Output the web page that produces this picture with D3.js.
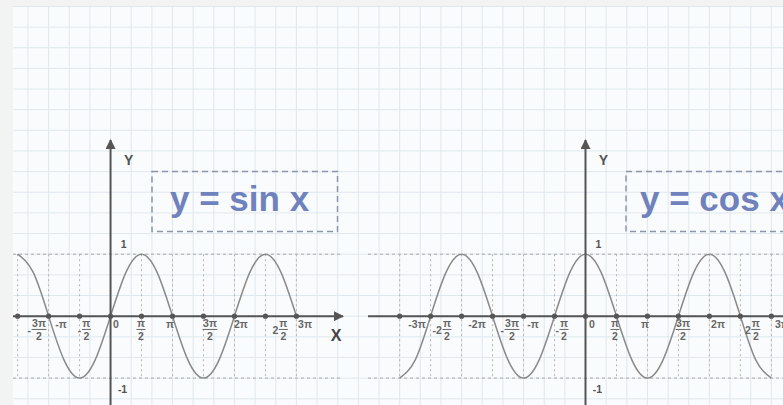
<!DOCTYPE html>
<html><head><meta charset="utf-8">
<script src="https://cdn.jsdelivr.net/npm/d3@7"></script>
<style>html,body{margin:0;padding:0;background:#f3f3f3;}svg{display:block;}</style>
</head><body>
<svg id="c" width="783" height="405"></svg>
<script>
// ---- data (x in multiples of π) ----
const sinX = [-1.5,-1.25,-1,-0.75,-0.5,-0.25,0,0.25,0.5,0.75,1,1.25,1.5,1.75,2,2.25,2.5,2.75,3];
const sinY = [1,0.71,0,-0.71,-1,-0.71,0,0.71,1,0.71,0,-0.71,-1,-0.71,0,0.71,1,0.71,0];
const cosX = [-3,-2.75,-2.5,-2.25,-2,-1.75,-1.5,-1.25,-1,-0.75,-0.5,-0.25,0,0.25,0.5,0.75,1,1.25,1.5,1.75,2,2.25,2.5,2.75,3];
const cosY = [-1,-0.71,0,0.71,1,0.71,0,-0.71,-1,-0.71,0,0.71,1,0.71,0,-0.71,-1,-0.71,0,0.71,1,0.71,0,-0.71,-1];
const sinTicks = [-1.5,-1,-0.5,0,0.5,1,1.5,2,2.5,3];
const cosTicks = [-3,-2.5,-2,-1.5,-1,-0.5,0,0.5,1,1.5,2,2.5,3];
const sinLabelPre = ["-", "", "-", "", "", "", "", "", "2", ""];
const sinLabelNum = ["3π","-π","π","0","π","π","3π","2π","π","3π"];
const sinLabelDen = ["2","","2","","2","","2","","2",""];
const sinLabelAt  = [-1.155,-0.80,-0.39,0.088,0.491,0.96,1.605,2.105,2.79,3.139];
const cosLabelPre = ["","-2","","-","","-","","","","","","2",""];
const cosLabelNum = ["-3π","π","-2π","3π","-π","π","0","π","π","3π","2π","π","3π"];
const cosLabelDen = ["","2","","2","","2","","2","","2","","2",""];
const cosLabelAt  = [-2.72,-2.236,-1.751,-1.186,-0.847,-0.347,0.105,0.476,0.960,1.574,2.139,2.75,3.17];
const yTickLabels = ["1","-1"];
const titles = ["y = sin x","y = cos x"];

// ---- layout ----
const svg = d3.select("#c");
const W = 783, H = 405;
const g = 20.65;             // grid cell
const gx0 = 7.3, gy0 = 6.4;  // grid offset
const unitPi = 3 * g;        // pixels per π
const amp = 3 * g;
const y0 = gy0 + 15 * g;
const y = d3.scaleLinear().domain([-1, 1]).range([y0 + amp, y0 - amp]);

// paper
svg.append("rect").attr("x", 13).attr("y", 6).attr("width", W - 13).attr("height", H - 6).attr("fill", "#f9fbfc");
const grid = svg.append("g").attr("stroke", "#e0e8ed").attr("stroke-width", 1);
for (let k = 0; gx0 + k * g < W; k++) {
  const xx = gx0 + k * g; if (xx < 13) continue;
  grid.append("line").attr("x1", xx).attr("x2", xx).attr("y1", 6).attr("y2", H);
}
for (let k = 0; gy0 + k * g < H; k++) {
  const yy = gy0 + k * g; if (yy < 6) continue;
  grid.append("line").attr("x1", 13).attr("x2", W).attr("y1", yy).attr("y2", yy);
}

const defs = svg.append("defs");
defs.append("marker").attr("id", "arr").attr("viewBox", "0 0 10 10").attr("refX", 9).attr("refY", 5)
  .attr("markerWidth", 5).attr("markerHeight", 5).attr("orient", "auto").attr("markerUnits", "strokeWidth")
  .append("path").attr("d", "M0,0 L10,5 L0,10 Z").attr("fill", "#555");

function panel(opt) {
  const x = d3.scaleLinear().domain([0, 1]).range([opt.origin, opt.origin + unitPi]);
  const p = svg.append("g");
  [1, -1].forEach(v => p.append("line").attr("x1", opt.xMin).attr("x2", opt.xMax)
    .attr("y1", y(v)).attr("y2", y(v)).attr("stroke", "#aaa").attr("stroke-width", 1).attr("stroke-dasharray", "3,3"));
  opt.ticks.filter(t => t !== 0).forEach(t => p.append("line").attr("x1", x(t)).attr("x2", x(t))
    .attr("y1", y(1)).attr("y2", y(-1)).attr("stroke", "#b5b5b5").attr("stroke-width", 1).attr("stroke-dasharray", "2,3"));
  const pts = opt.xs.map((v, i) => [v, opt.ys[i]]);
  p.append("path").attr("d", d3.line().x(d => x(d[0])).y(d => y(d[1])).curve(d3.curveNatural)(pts))
    .attr("fill", "none").attr("stroke", "#8a8a8a").attr("stroke-width", 1.5);
  p.append("line").attr("x1", opt.xMin).attr("x2", opt.xArrow).attr("y1", y0).attr("y2", y0)
    .attr("stroke", "#555").attr("stroke-width", 2).attr("marker-end", opt.xArrowMark ? "url(#arr)" : null);
  p.append("line").attr("x1", opt.origin).attr("x2", opt.origin).attr("y1", H).attr("y2", 140)
    .attr("stroke", "#555").attr("stroke-width", 2).attr("marker-end", "url(#arr)");
  opt.ticks.forEach(t => p.append("circle").attr("cx", x(t)).attr("cy", y0).attr("r", 2.6).attr("fill", "#555"));
  const lab = p.append("g").attr("font-family", "Liberation Sans, Arial, sans-serif").attr("font-weight", "bold")
    .attr("font-size", 10.5).attr("fill", "#666");
  opt.at.forEach((a, i) => {
    const gg = lab.append("g").attr("transform", `translate(${x(a)},0)`);
    if (opt.den[i]) {
      const n = gg.append("text").attr("text-anchor", "middle").attr("y", y0 + 11).text(opt.num[i]);
      const d = gg.append("text").attr("text-anchor", "middle").attr("y", y0 + 24).text(opt.den[i]);
      const w = Math.max(n.node().getComputedTextLength(), d.node().getComputedTextLength()) + 1;
      gg.append("line").attr("x1", -w / 2).attr("x2", w / 2).attr("y1", y0 + 13.3).attr("y2", y0 + 13.3)
        .attr("stroke", "#666").attr("stroke-width", 1);
      if (opt.pre[i]) gg.append("text").attr("text-anchor", "end").attr("x", -w / 2 - 0.5).attr("y", y0 + 17.5).text(opt.pre[i]);
    } else {
      gg.append("text").attr("text-anchor", "middle").attr("y", y0 + 11.5).text(opt.num[i]);
    }
  });
  const yl = p.append("g").attr("font-family", "Liberation Sans, Arial, sans-serif").attr("font-weight", "bold").attr("fill", "#555");
  yl.append("text").attr("x", opt.origin + 13).attr("y", y(1) - 6).attr("font-size", 10.5).attr("text-anchor", "middle").text(yTickLabels[0]);
  yl.append("text").attr("x", opt.origin + 12).attr("y", y(-1) + 15).attr("font-size", 10.5).attr("text-anchor", "middle").text(yTickLabels[1]);
  yl.append("text").attr("x", opt.origin + 18).attr("y", 165).attr("font-size", 14).attr("text-anchor", "middle").text("Y");
  if (opt.xLabel) yl.append("text").attr("x", opt.xArrow - 7).attr("y", y0 + 25).attr("font-size", 16).attr("fill", "#444").attr("text-anchor", "middle").text("X");
  p.append("rect").attr("x", opt.box[0]).attr("y", 171.5).attr("width", opt.box[1]).attr("height", 60)
    .attr("fill", "none").attr("stroke", "#8d95ad").attr("stroke-width", 1.5).attr("stroke-dasharray", "6,4");
  p.append("text").attr("x", opt.box[0] + opt.textDx).attr("y", 211).attr("font-family", "Liberation Sans, Arial, sans-serif")
    .attr("font-weight", "bold").attr("font-size", 35).attr("fill", "#7082bd").text(opt.title);
}

panel({ origin: gx0 + 5 * g, xMin: 13, xMax: 343, xArrow: 343, xArrowMark: true, xLabel: true,
  xs: sinX, ys: sinY, ticks: sinTicks, pre: sinLabelPre, num: sinLabelNum, den: sinLabelDen, at: sinLabelAt,
  box: [152, 185.5], textDx: 18, title: titles[0] });
panel({ origin: gx0 + 28 * g, xMin: 368, xMax: W, xArrow: W, xArrowMark: false, xLabel: false,
  xs: cosX, ys: cosY, ticks: cosTicks, pre: cosLabelPre, num: cosLabelNum, den: cosLabelDen, at: cosLabelAt,
  box: [626, 200], textDx: 14, title: titles[1] });
</script>
</body></html>
